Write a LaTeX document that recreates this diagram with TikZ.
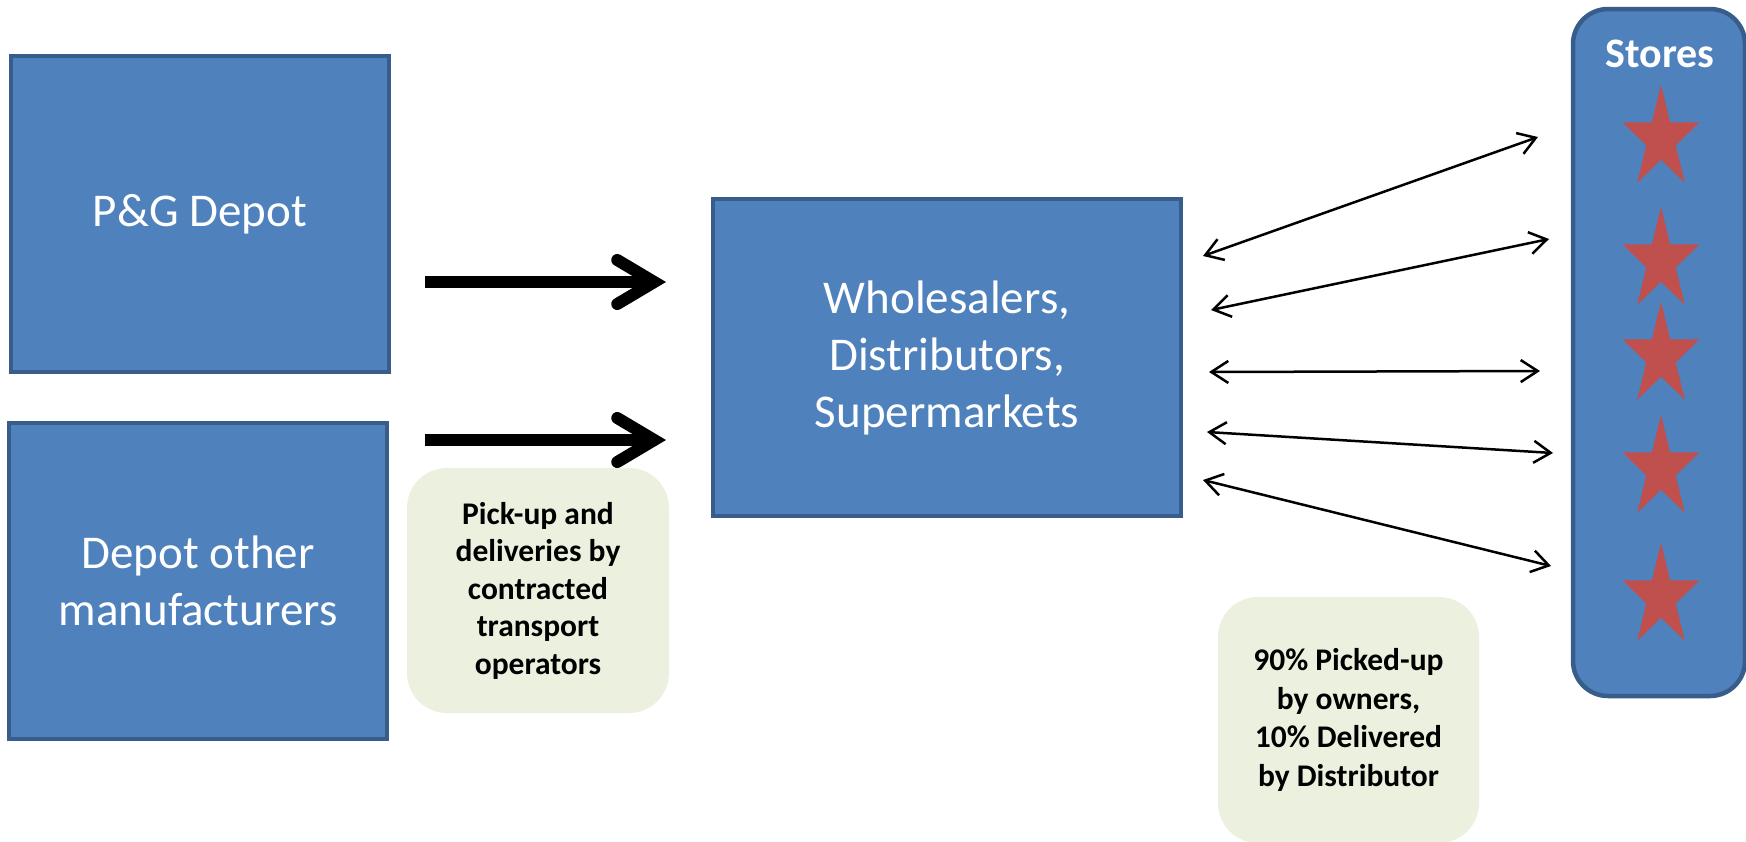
\documentclass[tikz,border=0pt]{standalone}
\usepackage{fontspec}
\setmainfont{Carlito}
\usetikzlibrary{arrows.meta}
\definecolor{boxblue}{HTML}{4F81BD}
\definecolor{boxedge}{HTML}{385D8A}
\definecolor{notegreen}{HTML}{EBF1DE}
\definecolor{starred}{HTML}{C0504D}
\begin{document}
\begin{tikzpicture}[x=1pt,y=-1pt,
  bluebox/.style={draw=boxedge, line width=4.5pt, fill=boxblue, text=white, align=center, inner sep=0pt, font=\fontsize{47}{57}\selectfont},
  notebox/.style={fill=notegreen, rounded corners=40pt, align=center, inner sep=0pt, text=black},
  bigarrow/.style={line width=12pt, -{Straight Barb[length=37pt,width=44pt,line cap=round]}},
  twoway/.style={line width=2.5pt, {Straight Barb[length=17pt,width=22pt]}-{Straight Barb[length=17pt,width=22pt]}},
  pics/redstar/.style={code={\fill[starred] (0,-54.2) -- (9.09,-16.75) -- (38.5,-16.7) -- (14.7,6.4) -- (23.8,43.8) -- (0,20.7) -- (-23.8,43.8) -- (-14.7,6.4) -- (-38.5,-16.7) -- (-9.09,-16.75) -- cycle;}}
]
\fill[white] (0,0) rectangle (1746,841);
\useasboundingbox (0,0) rectangle (1746,841);

\node[bluebox, minimum width=378pt, minimum height=316pt] (pg) at (200,214) {P\&G Depot};
\node[bluebox, minimum width=378pt, minimum height=316pt] (other) at (198,581) {Depot other\\manufacturers};
\node[bluebox, minimum width=468pt, minimum height=317pt] (whole) at (947,357.5) {Wholesalers,\\Distributors,\\Supermarkets};
\node[bluebox, rounded corners=35pt, minimum width=172pt, minimum height=687pt] (stores) at (1659,352.5) {};
\node[anchor=base, text=white, font=\bfseries\fontsize{42}{50}\selectfont] (storeslabel) at (1660,67) {Stores};

\node[notebox, minimum width=262pt, minimum height=245pt, font=\bfseries\fontsize{31.5}{37.5}\selectfont] (note1) at (538,590.5) {Pick-up and\\deliveries by\\contracted\\transport\\operators};
\node[notebox, minimum width=261pt, minimum height=246pt, font=\bfseries\fontsize{31.5}{38.5}\selectfont] (note2) at (1348.5,720) {90\% Picked-up\\by owners,\\10\% Delivered\\by Distributor};

\pic at (1661,139) {redstar};
\pic at (1661,261) {redstar};
\pic at (1661,356) {redstar};
\pic at (1661,469) {redstar};
\pic at (1661,597) {redstar};

\coordinate (a1s) at (425,282);
\coordinate (a1e) at (666,282);
\coordinate (a2s) at (425,440);
\coordinate (a2e) at (666,440);
\draw[bigarrow] (a1s) -- (a1e);
\draw[bigarrow] (a2s) -- (a2e);

\coordinate (w1) at (1203,256);
\coordinate (w2) at (1211,310);
\coordinate (w3) at (1209,372);
\coordinate (w4) at (1207,432);
\coordinate (w5) at (1203,480);
\coordinate (s1) at (1538,137);
\coordinate (s2) at (1549,239);
\coordinate (s3) at (1540,371);
\coordinate (s4) at (1553,453);
\coordinate (s5) at (1551,566);
\draw[twoway] (w1) -- (s1);
\draw[twoway] (w2) -- (s2);
\draw[twoway] (w3) -- (s3);
\draw[twoway] (w4) -- (s4);
\draw[twoway] (w5) -- (s5);
\end{tikzpicture}
\end{document}
